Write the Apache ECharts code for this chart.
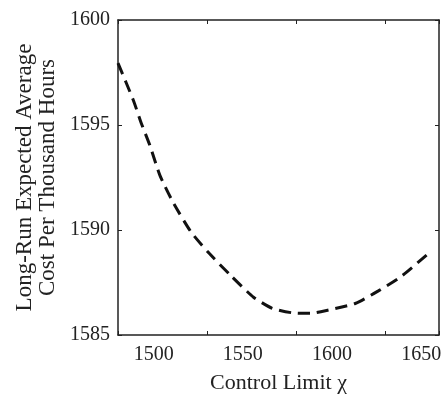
<!DOCTYPE html>
<html>
  <head>
    <meta charset="utf-8" />
    <title>Control Limit cost curve</title>
    <script src="https://cdn.jsdelivr.net/npm/echarts@6/dist/echarts.min.js"></script>
    <style>
      body { margin: 0; background: #fff; }
      #chart { width: 445px; height: 394px; }
    </style>
  </head>
  <body>
    <div id="chart"></div>
    <script>
      // control limit values (x) and cost values (y)
      const controlLimit = [1480, 1488.5, 1493, 1498, 1503.5, 1511, 1521, 1531, 1543, 1556, 1566.5, 1577.5, 1588, 1598, 1613, 1626, 1639, 1655];
      const cost = [1597.95, 1596.2, 1595.1, 1594.0, 1592.6, 1591.3, 1589.9, 1588.9, 1587.85, 1586.8, 1586.27, 1586.06, 1586.03, 1586.19, 1586.5, 1587.1, 1587.8, 1588.95];
      const xTicks = [1500, 1550, 1600, 1650];
      const yTicks = [1585, 1590, 1595, 1600];

      const font = 'Liberation Serif';
      const ink = '#222';

      const chart = echarts.init(document.getElementById('chart'));
      chart.setOption({
        backgroundColor: '#fff',
        animation: false,
        textStyle: { fontFamily: font },
        grid: { left: 118, right: 6, top: 20, bottom: 59, outerBoundsMode: 'none', containLabel: false },
        xAxis: [
          {
            type: 'value',
            min: 1480,
            max: 1660,
            interval: 50,
            name: 'Control Limit χ',
            nameLocation: 'middle',
            nameGap: 37,
            nameTextStyle: { fontFamily: font, fontSize: 22, color: ink },
            axisLine: { lineStyle: { color: ink, width: 1.5 } },
            axisTick: { inside: true, length: 4, lineStyle: { color: ink } },
            axisLabel: {
              fontFamily: font, fontSize: 20, color: ink, margin: 10,
              customValues: xTicks,
              formatter: v => String(v)
            },
            splitLine: { show: false }
          },
          {
            type: 'value',
            position: 'top',
            min: 1480,
            max: 1660,
            interval: 50,
            axisLine: { show: true, lineStyle: { color: ink, width: 1.5 } },
            axisTick: { inside: true, length: 4, lineStyle: { color: ink } },
            axisLabel: { show: false },
            splitLine: { show: false }
          }
        ],
        yAxis: [
          {
            type: 'value',
            min: 1585,
            max: 1600,
            interval: 5,
            name: 'Long-Run Expected Average\nCost Per Thousand Hours',
            nameLocation: 'middle',
            nameRotate: 90,
            nameGap: 57,
            nameTextStyle: { fontFamily: font, fontSize: 23, color: ink, lineHeight: 23 },
            axisLine: { show: true, lineStyle: { color: ink, width: 1.5 } },
            axisTick: { show: true, inside: true, length: 4, lineStyle: { color: ink } },
            axisLabel: {
              fontFamily: font, fontSize: 20, color: ink, margin: 8,
              customValues: yTicks,
              formatter: v => String(v)
            },
            splitLine: { show: false }
          },
          {
            type: 'value',
            position: 'right',
            min: 1585,
            max: 1600,
            interval: 5,
            axisLine: { show: true, lineStyle: { color: ink, width: 1.5 } },
            axisTick: { show: true, inside: true, length: 4, lineStyle: { color: ink } },
            axisLabel: { show: false },
            splitLine: { show: false }
          }
        ],
        series: [
          {
            type: 'line',
            data: controlLimit.map((x, i) => [x, cost[i]]),
            smooth: 0.2,
            showSymbol: false,
            lineStyle: { color: '#111', width: 3, type: [12, 7] }
          }
        ]
      });
    </script>
  </body>
</html>
